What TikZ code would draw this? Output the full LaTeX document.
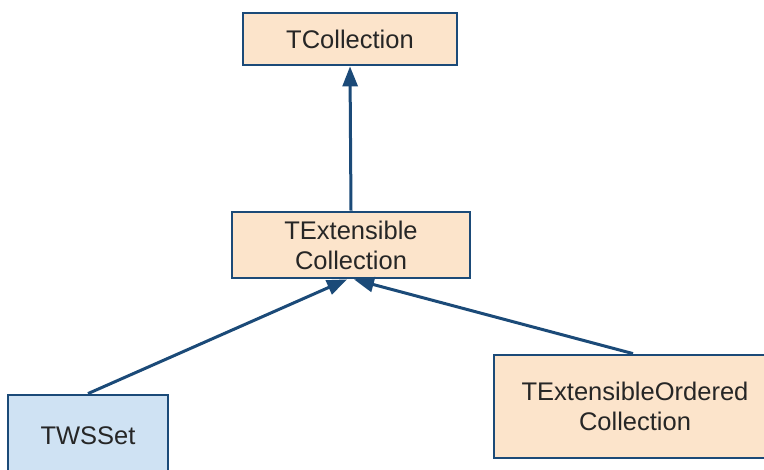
\documentclass[tikz,border=0pt]{standalone}
\usepackage{fontspec}
\setmainfont{Liberation Sans}
\usetikzlibrary{arrows.meta}
\definecolor{edgeblue}{HTML}{1B4A78}
\definecolor{classfill}{HTML}{FCE4CB}
\definecolor{leaffill}{HTML}{CFE2F3}
\tikzset{
  classbox/.style={draw=edgeblue, line width=2.8pt, fill=classfill, inner sep=0pt,
    align=center, font=\fontsize{25.5}{30}\selectfont, text=black!85},
  leafbox/.style={classbox, fill=leaffill},
  inherit/.style={draw=edgeblue, line width=3pt,
    -{Triangle[length=20pt,width=15pt]}}
}
\begin{document}
\begin{tikzpicture}[x=1pt,y=-1pt]
  \useasboundingbox (0,0) rectangle (764,470);
  \clip (0,0) rectangle (764,470);
  \fill[white] (0,0) rectangle (764,470);

  % class nodes
  \node[classbox, minimum width=214pt, minimum height=52pt] (coll) at (350,39) {TCollection};
  \node[classbox, minimum width=238pt, minimum height=66pt] (ext) at (351,245) {TExtensible\\Collection};
  \node[leafbox, minimum width=160pt, minimum height=82pt] (tws) at (88,436) {TWSSet};
  \node[classbox, minimum width=282pt, minimum height=103pt] (ord) at (635,406.5) {TExtensibleOrdered\\Collection};

  % inheritance connectors
  \draw[inherit] (ext.north) -- (coll.south);
  \draw[inherit] (tws.north) -- ([xshift=-4pt]ext.south);
  \draw[inherit] ([xshift=-2pt]ord.north) -- ([xshift=3pt]ext.south);
\end{tikzpicture}
\end{document}
